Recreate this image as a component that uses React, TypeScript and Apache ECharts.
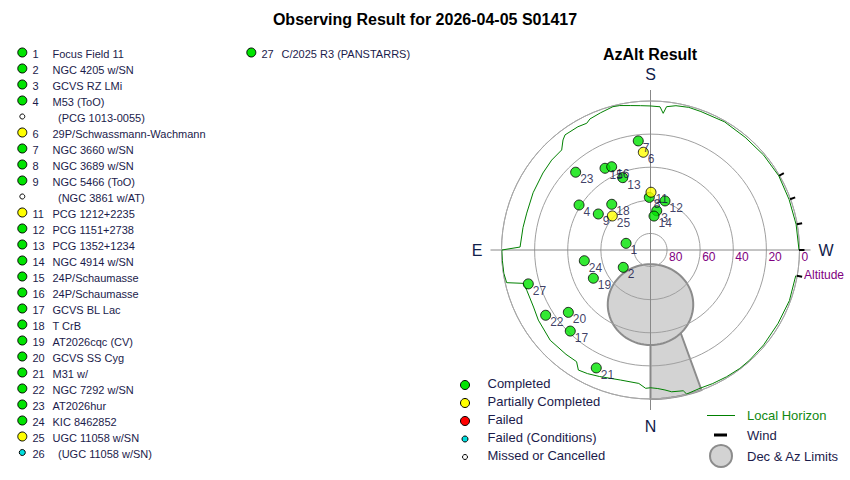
import React, { useEffect, useRef } from 'react';
import * as echarts from 'echarts';

// ---------- data ----------
const TITLE = 'Observing Result for 2026-04-05 S01417';
const SUBTITLE = 'AzAlt Result';

const targetIds = [1, 2, 3, 4, 5, 6, 7, 8, 9, 10, 11, 12, 13, 14, 15, 16, 17, 18, 19, 20, 21, 22, 23, 24, 25, 26, 27];
const targetNames = [
  'Focus Field 11', 'NGC 4205 w/SN', 'GCVS RZ LMi', 'M53 (ToO)', '(PCG 1013-0055)',
  '29P/Schwassmann-Wachmann', 'NGC 3660 w/SN', 'NGC 3689 w/SN', 'NGC 5466 (ToO)', '(NGC 3861 w/AT)',
  'PCG 1212+2235', 'PCG 1151+2738', 'PCG 1352+1234', 'NGC 4914 w/SN', '24P/Schaumasse',
  '24P/Schaumasse', 'GCVS BL Lac', 'T CrB', 'AT2026cqc (CV)', 'GCVS SS Cyg',
  'M31 w/', 'NGC 7292 w/SN', 'AT2026hur', 'KIC 8462852', 'UGC 11058 w/SN',
  '(UGC 11058 w/SN)', 'C/2025 R3 (PANSTARRS)',
];
// 0 completed, 1 partial, 2 failed, 3 failed (conditions), 4 missed
const targetStatus = [0, 0, 0, 0, 4, 1, 0, 0, 0, 4, 1, 0, 0, 0, 0, 0, 0, 0, 0, 0, 0, 0, 0, 0, 1, 3, 0];

const statusLabels = ['Completed', 'Partially Completed', 'Failed', 'Failed (Conditions)', 'Missed or Cancelled'];

// plotted observations (azimuth from N through E, altitude in degrees)
const pointIds = [1, 2, 3, 4, 6, 7, 8, 9, 11, 12, 13, 14, 15, 16, 17, 18, 19, 20, 21, 22, 23, 24, 25, 27];
const pointAz = [105.3, 57.5, 189.0, 122.2, 175.8, 173.6, 178.7, 124.6, 180.5, 196.5, 159.0, 185.9, 150.9, 155.0, 44.7, 139.7, 63.7, 52.8, 24.7, 58.1, 136.1, 80.8, 131.7, 74.5];
const pointAlt = [74.7, 70.5, 66.0, 39.0, 30.8, 23.7, 58.2, 51.7, 55.1, 59.1, 43.2, 69.4, 33.5, 34.5, 21.1, 53.8, 51.5, 27.7, 11.6, 15.4, 24.8, 49.5, 59.1, 13.4];

// local horizon
const horizonAz = [0, 2, 5, 13, 22, 27, 31, 33.5, 39, 48, 58, 64, 72, 75.3, 77.2, 81, 86, 90, 91.3, 100, 106.6, 116, 125.6, 132.3, 138.4, 141.5, 143.4, 149.5, 153.3, 155.2, 160, 165.3, 168, 172, 176, 180, 183.8, 185.3, 186.4, 190, 195, 200, 210, 220, 230, 240, 250, 260, 270, 280, 290, 300, 310, 318, 323, 329, 335, 340.3, 345.9, 346.9, 351.5, 354.1, 357, 360];
const horizonAlt = [6.8, 6.4, 9.1, 9.4, 7.6, 6.2, 5.4, 9.1, 8.9, 8.5, 10.1, 11.4, 11.4, 10.6, 0.9, 0.3, 0.3, 0.2, 11.2, 11.8, 12.0, 11.1, 10.1, 9.3, 9.2, 5.1, 3.4, 3.6, 4.3, 2.8, 1.8, 0.5, 0.8, 1.9, 2.6, 3.0, 3.3, 7.1, 2.9, 1.5, 0.8, 1.0, 0.6, 1.1, 0.8, 0.5, 0.9, 0.7, 0.3, 0.9, 0.7, 1.1, 0.8, 0.5, 0.4, 0.7, 1.0, 1.3, 0.3, 2.7, 3.4, 5.0, 6.2, 6.8];

// wind directions drawn on the horizon
const windAz = [240, 250, 260, 270, 280];

// declination & azimuth limits
const LIMIT_POLE_ALT = 57;
const LIMIT_RADIUS = 24.4;
const AZ_LIMIT = [340, 360];

// ---------- helpers ----------
const FONT = "'Liberation Sans', Arial, sans-serif";
const TEXT_COLOR = '#1b1b4b';
const STATUS_COLORS = ['#00e400', '#ffff00', '#ff0000', '#00dede', '#ffffff'];
const STATUS_R = [4.5, 4.5, 4.5, 3, 2.5];
const LEGEND_R = [4.5, 4.5, 4.5, 3, 2.5];
const CENTER = [650.5, 250];

const toAng = (az: number) => (az > 270 ? az - 360 : az);
const d2r = Math.PI / 180;

function limitCircle(): number[][] {
  const phi = LIMIT_POLE_ALT * d2r;
  const rho = LIMIT_RADIUS * d2r;
  const P = [Math.cos(phi), 0, Math.sin(phi)];
  const U = [-Math.sin(phi), 0, Math.cos(phi)];
  const out: number[][] = [];
  for (let t = 0; t < 360; t += 4) {
    const th = t * d2r;
    const c = Math.cos(rho), s = Math.sin(rho);
    const x = c * P[0] + s * Math.cos(th) * U[0];
    const y = s * Math.sin(th);
    const z = c * P[2] + s * Math.cos(th) * U[2];
    const alt = Math.asin(z) / d2r;
    const az = Math.atan2(y, x) / d2r;
    out.push([alt, az]);
  }
  return out;
}

function limitWedge(): number[][] {
  const out: number[][] = [];
  for (let a = AZ_LIMIT[0]; a <= AZ_LIMIT[1]; a += 2) out.push([0, toAng(a)]);
  out.push([45, toAng(AZ_LIMIT[1])]);
  out.push([45, toAng(AZ_LIMIT[0])]);
  return out;
}

function buildGraphic() {
  const els: any[] = [];
  const txt = (x: number, y: number, text: string, size: number, fill: string, align = 'left', weight = 'normal') => ({
    type: 'text', x, y, silent: true,
    style: { text, fill, font: `${weight} ${size}px ${FONT}`, align, verticalAlign: 'middle' },
  });
  els.push(txt(425, 19, TITLE, 16, '#000', 'center', 'bold'));
  els.push(txt(650, 54, SUBTITLE, 16, '#000', 'center', 'bold'));
  els.push(txt(804, 275, 'Altitude', 12, '#800080'));

  // target list
  targetIds.forEach((id, i) => {
    const col = i < 26 ? 0 : 1;
    const row = i < 26 ? i : i - 26;
    const ox = col * 229;
    const y = 53.5 + row * 16;
    const st = targetStatus[i];
    els.push({
      type: 'circle', silent: true,
      shape: { cx: 22.3 + ox, cy: y - 1, r: STATUS_R[st] },
      style: { fill: STATUS_COLORS[st], stroke: '#000', lineWidth: 1 },
    });
    if (st !== 4) els.push(txt(32.5 + ox, y, String(id), 11, TEXT_COLOR));
    els.push(txt((st >= 3 ? 58 : 52.5) + ox, y, targetNames[i], 11, TEXT_COLOR));
  });

  // status legend
  statusLabels.forEach((lab, i) => {
    const y = 383.5 + i * 18;
    els.push({
      type: 'circle', silent: true,
      shape: { cx: 465, cy: y + 1.5, r: LEGEND_R[i] },
      style: { fill: STATUS_COLORS[i], stroke: '#000', lineWidth: 1 },
    });
    els.push(txt(487.5, y, lab, 13, TEXT_COLOR));
  });

  // other legend
  els.push({ type: 'line', silent: true, shape: { x1: 707, y1: 415.5, x2: 735, y2: 415.5 }, style: { stroke: '#008000', lineWidth: 1 } });
  els.push(txt(747, 415, 'Local Horizon', 13, '#118811'));
  els.push({ type: 'line', silent: true, shape: { x1: 714, y1: 435, x2: 727, y2: 435 }, style: { stroke: '#000', lineWidth: 3 } });
  els.push(txt(747, 435, 'Wind', 13, TEXT_COLOR));
  els.push({ type: 'circle', silent: true, shape: { cx: 721, cy: 456, r: 11 }, style: { fill: '#d3d3d3', stroke: '#8c8c8c', lineWidth: 2 } });
  els.push(txt(747, 456, 'Dec & Az Limits', 13, TEXT_COLOR));
  return els;
}

export default function App() {
  const ref = useRef<HTMLDivElement>(null);
  useEffect(() => {
    if (!ref.current) return;
    const chart = echarts.init(ref.current, undefined, { renderer: 'svg' });
    const circlePts = limitCircle();
    const wedgePts = limitWedge();
    const compass: Record<string, string> = { '-90': 'W', '0': 'N', '90': 'E', '180': 'S' };

    const option: any = {
      animation: false,
      backgroundColor: '#ffffff',
      textStyle: { fontFamily: FONT },
      polar: [
        { center: CENTER, radius: 149 },
        { center: CENTER, radius: 160 },
      ],
      angleAxis: [
        {
          polarIndex: 0, type: 'value', min: -90, max: 270, startAngle: 0, clockwise: true, z: 1,
          axisLine: { show: true, lineStyle: { color: '#a8a8a8', width: 1 } },
          axisTick: { show: false }, axisLabel: { show: false }, splitLine: { show: false },
        },
        {
          polarIndex: 1, type: 'value', min: -90, max: 270, interval: 90, startAngle: 0, clockwise: true, z: 1,
          axisLine: { show: false }, axisTick: { show: false },
          axisLabel: {
            show: true, margin: 8, fontSize: 16, color: '#10204a', fontFamily: FONT,
            formatter: (v: number) => compass[String(v)] || '',
          },
          splitLine: { show: true, lineStyle: { color: '#888888', width: 1 } },
        },
      ],
      radiusAxis: [
        {
          polarIndex: 0, type: 'value', min: 0, max: 90, interval: 20, inverse: true, z: 1,
          axisLine: { show: false }, axisTick: { show: false },
          axisLabel: {
            show: true, color: '#800080', fontSize: 12, fontFamily: FONT, align: 'left', verticalAlign: 'top', margin: -1,
            padding: [0, 0, 0, 2],
            formatter: (v: number) => (v === 90 ? '' : String(v)),
          },
          splitLine: { show: true, lineStyle: { color: '#a0a0a0', width: 1 } },
        },
        { polarIndex: 1, type: 'value', min: 0, max: 1, show: false },
      ],
      graphic: buildGraphic(),
      series: [
        {
          type: 'custom', coordinateSystem: 'polar', polarIndex: 0, z: -1, silent: true,
          data: [[0, 0]],
          renderItem: (_p: any, api: any) => ({
            type: 'group',
            children: [
              { type: 'polygon', shape: { points: wedgePts.map((p) => api.coord(p)) }, style: { fill: '#d3d3d3', stroke: '#8c8c8c', lineWidth: 2 } },
              { type: 'polygon', shape: { points: circlePts.map((p) => api.coord(p)) }, style: { fill: '#d3d3d3', stroke: '#8c8c8c', lineWidth: 2 } },
            ],
          }),
        },
        {
          type: 'line', coordinateSystem: 'polar', polarIndex: 0, z: 3, silent: true,
          showSymbol: false, symbol: 'none',
          lineStyle: { color: '#008000', width: 1 },
          data: horizonAz
            .map((az, i) => [horizonAlt[i], toAng(az)])
            .sort((a, b) => a[1] - b[1])
            .concat([[horizonAlt[horizonAz.indexOf(270)], 270]]),
        },
        {
          type: 'custom', coordinateSystem: 'polar', polarIndex: 0, z: 4, silent: true,
          data: windAz.map((az) => [0, toAng(az)]),
          renderItem: (_p: any, api: any) => {
            const ang = api.value(1);
            const p1 = api.coord([0.3, ang]);
            const p2 = api.coord([-3, ang]);
            return { type: 'line', shape: { x1: p1[0], y1: p1[1], x2: p2[0], y2: p2[1] }, style: { stroke: '#000', lineWidth: 2 } };
          },
        },
        {
          type: 'scatter', coordinateSystem: 'polar', polarIndex: 0, z: 5,
          symbol: 'circle', symbolSize: 10,
          data: pointIds.map((id, i) => {
            const st = targetStatus[targetIds.indexOf(id)];
            return {
              value: [pointAlt[i], toAng(pointAz[i])],
              name: String(id),
              itemStyle: { color: STATUS_COLORS[st], borderColor: '#000', borderWidth: 1 },
            };
          }),
          label: {
            show: true, position: 'right', distance: 0, offset: [-1, 7],
            formatter: (p: any) => p.name, fontSize: 12, fontFamily: FONT, color: '#0c0c40',
          },
        },
      ],
    };
    chart.setOption(option);
    return () => chart.dispose();
  }, []);
  return <div ref={ref} style={{ position: 'fixed', left: 0, top: 0, width: 850, height: 480 }} />;
}
